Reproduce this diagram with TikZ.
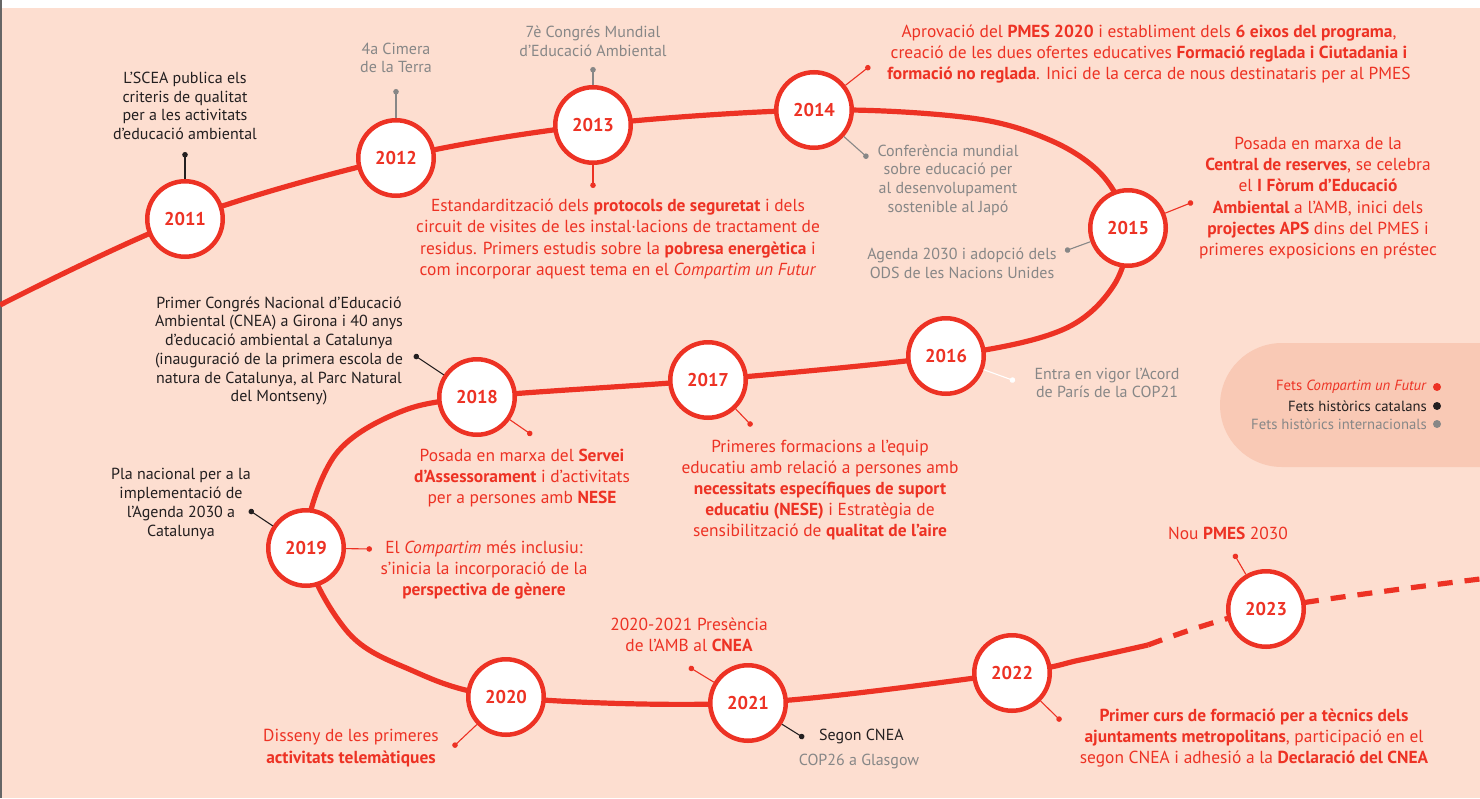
\documentclass[tikz,border=0pt]{standalone}
\usepackage{fontspec}
\setmainfont{PT Sans}
\usetikzlibrary{arrows.meta}
\definecolor{cred}{RGB}{237,50,36}
\definecolor{cbg}{RGB}{253,222,208}
\definecolor{cleg}{RGB}{249,201,181}
\definecolor{cgray}{RGB}{135,135,135}
\definecolor{cblack}{RGB}{35,31,32}
\begin{document}
\begin{tikzpicture}[x=1pt,y=-1pt,
  yr/.style={circle, draw=cred, line width=4.5pt, fill=white, minimum size=75.5pt, inner sep=0pt, text=cred, font=\fontsize{18.5}{18.5}\selectfont\bfseries},
  rt/.style={text=cred, align=center, inner sep=0pt, font=\fontsize{17.4}{21.2}\selectfont},
  bt/.style={text=cblack, align=center, inner sep=0pt, font=\fontsize{16}{18.7}\selectfont},
  gt/.style={text=cgray, align=center, inner sep=0pt, font=\fontsize{16}{18.7}\selectfont},
  lt/.style={anchor=east, inner sep=0pt, font=\fontsize{14.7}{14.7}\selectfont},
  trail/.style={draw=cred, line width=5.2pt},
  conn/.style={line width=1.1pt, -{Circle[length=5.5pt]}},
  rconn/.style={conn, draw=cred},
  bconn/.style={conn, draw=cblack},
  gconn/.style={conn, draw=cgray},
  wconn/.style={conn, draw=white},
]
\useasboundingbox (0,0) rectangle (1480,798);
\fill[white] (0,0) rectangle (1480,798);
\fill[cbg] (0,8) rectangle (1480,798);
\fill[black!60] (0,0) rectangle (1.5,798);

% legend
\begin{scope}
\clip (0,0) rectangle (1480,798);
\fill[cleg, rounded corners=62pt] (1220,343) rectangle (1560,467);
\end{scope}
\node[lt, text=cred] (l1) at (1427,387) {Fets \textit{Compartim un Futur}};
\node[lt, text=cblack] (l2) at (1427,406) {Fets històrics catalans};
\node[lt, text=cgray] (l3) at (1427,424) {Fets històrics internacionals};
\fill[cred] (1437,387) circle (4pt);
\fill[cblack] (1437,406) circle (4pt);
\fill[cgray] (1437,424) circle (4pt);

% positions
\coordinate (p11) at (185,219);
\coordinate (p12) at (396,158);
\coordinate (p13) at (593,125);
\coordinate (p14) at (814,110);
\coordinate (p15) at (1128,228);
\coordinate (p16) at (946,356);
\coordinate (p17) at (708,380);
\coordinate (p18) at (477,397);
\coordinate (p19) at (306,548);
\coordinate (p20) at (506,697);
\coordinate (p21) at (748,703);
\coordinate (p22) at (1012,673);
\coordinate (p23) at (1266,609);
\coordinate (s0) at (0,305);
\coordinate (s1) at (1148,645);
\coordinate (s2) at (1480,579);

\draw[trail] plot[smooth, tension=0.55] coordinates {(s0) (p11) (p12) (p13) (p14) (971,118) (1052,141) (1103,176) (p15) (1114,285) (1062,330) (p16) (p17) (p18) (395,414) (333,458) (p19) (346,630) (404,667) (p20) (p21) (p22) (1080,660) (s1)};
\draw[trail, dash pattern=on 15pt off 12pt] plot[smooth, tension=0.55] coordinates {(s1) (p23) (s2)};

% dot ends
\coordinate (d11) at (185,152);
\coordinate (d12) at (396,89);
\coordinate (d13a) at (593,67);
\coordinate (d13b) at (593,188);
\coordinate (d14a) at (870,66);
\coordinate (d14b) at (868,158);
\coordinate (d15a) at (1193,202);
\coordinate (d15b) at (1065,251);
\coordinate (d16) at (1015,381);
\coordinate (d17) at (752,426);
\coordinate (d18a) at (414,355);
\coordinate (d18b) at (532,435);
\coordinate (d19a) at (249,510);
\coordinate (d19b) at (372,549);
\coordinate (d20) at (453,747);
\coordinate (d21a) at (689,667);
\coordinate (d21b) at (804,738);
\coordinate (d22) at (1061,721);
\coordinate (d23) at (1234,554);

% circles
\node[yr] (c11) at (p11) {2011};
\node[yr] (c12) at (p12) {2012};
\node[yr] (c13) at (p13) {2013};
\node[yr] (c14) at (p14) {2014};
\node[yr] (c15) at (p15) {2015};
\node[yr] (c16) at (p16) {2016};
\node[yr] (c17) at (p17) {2017};
\node[yr] (c18) at (p18) {2018};
\node[yr] (c19) at (p19) {2019};
\node[yr] (c20) at (p20) {2020};
\node[yr] (c21) at (p21) {2021};
\node[yr] (c22) at (p22) {2022};
\node[yr] (c23) at (p23) {2023};

% connectors
\draw[bconn] (c11) -- (d11);
\draw[gconn] (c12) -- (d12);
\draw[gconn] (c13) -- (d13a);
\draw[rconn] (c13) -- (d13b);
\draw[rconn] (c14) -- (d14a);
\draw[gconn] (c14) -- (d14b);
\draw[rconn] (c15) -- (d15a);
\draw[gconn] (c15) -- (d15b);
\draw[wconn] (c16) -- (d16);
\draw[rconn] (c17) -- (d17);
\draw[bconn] (c18) -- (d18a);
\draw[rconn] (c18) -- (d18b);
\draw[bconn] (c19) -- (d19a);
\draw[rconn] (c19) -- (d19b);
\draw[rconn] (c20) -- (d20);
\draw[rconn] (c21) -- (d21a);
\draw[bconn] (c21) -- (d21b);
\draw[rconn] (c22) -- (d22);
\draw[rconn] (c23) -- (d23);

% texts
\node[bt] (t11) at (185,106) {L’SCEA publica els\\criteris de qualitat\\per a les activitats\\d’educació ambiental};
\node[gt] (t12) at (396,58) {4a Cimera\\de la Terra};
\node[gt] (t13a) at (593,41) {7è Congrés Mundial\\d’Educació Ambiental};
\node[rt] (t13b) at (618,239) {Estandardització dels \textbf{protocols de seguretat} i dels\\circuit de visites de les instal·lacions de tractament de\\residus. Primers estudis sobre la \textbf{pobresa energètica} i\\com incorporar aquest tema en el \textit{Compartim un Futur}};
\node[rt] (t14a) at (1149,54) {Aprovació del \textbf{PMES 2020} i establiment dels \textbf{6 eixos del programa},\\creació de les dues ofertes educatives \textbf{Formació reglada i Ciutadania i}\\\textbf{formació no reglada}. Inici de la cerca de nous destinataris per al PMES};
\node[gt] (t14b) at (948,180) {Conferència mundial\\sobre educació per\\al desenvolupament\\sostenible al Japó};
\node[rt] (t15a) at (1318,198) {Posada en marxa de la\\\textbf{Central de reserves}, se celebra\\el \textbf{I Fòrum d’Educació}\\\textbf{Ambiental} a l’AMB, inici dels\\\textbf{projectes APS} dins del PMES i\\primeres exposicions en préstec};
\node[gt] (t15b) at (962,263) {Agenda 2030 i adopció dels\\ODS de les Nacions Unides};
\node[gt] (t16) at (1107,383) {Entra en vigor l’Acord\\de París de la COP21};
\node[rt] (t17) at (820,490) {Primeres formacions a l’equip\\educatiu amb relació a persones amb\\\textbf{necessitats específiques de suport}\\\textbf{educatiu (NESE)} i Estratègia de\\sensibilització de \textbf{qualitat de l’aire}};
\node[bt] (t18a) at (279,351) {Primer Congrés Nacional d’Educació\\Ambiental (CNEA) a Girona i 40 anys\\d’educació ambiental a Catalunya\\(inauguració de la primera escola de\\natura de Catalunya, al Parc Natural\\del Montseny)};
\node[rt] (t18b) at (522,478) {Posada en marxa del \textbf{Servei}\\\textbf{d’Assessorament} i d'activitats\\per a persones amb \textbf{NESE}};
\node[bt] (t19a) at (181,504) {Pla nacional per a la\\implementació de\\l’Agenda 2030 a\\Catalunya};
\node[rt] (t19b) at (484,570) {El \textit{Compartim} més inclusiu:\\s’inicia la incorporació de la\\\textbf{perspectiva de gènere}};
\node[rt] (t20) at (351,748) {Disseny de les primeres\\\textbf{activitats telemàtiques}};
\node[rt] (t21a) at (689,635) {2020-2021 Presència\\de l’AMB al \textbf{CNEA}};
\node[bt, anchor=west] (t21b) at (819,736) {Segon CNEA};
\node[gt] (t21c) at (859,761) {COP26 a Glasgow};
\node[rt] (t22) at (1254,738) {\textbf{Primer curs de formació per a tècnics dels}\\\textbf{ajuntaments metropolitans}, participació en el\\segon CNEA i adhesió a la \textbf{Declaració del CNEA}};
\node[rt] (t23) at (1228,533) {Nou \textbf{PMES} 2030};
\end{tikzpicture}
\end{document}
